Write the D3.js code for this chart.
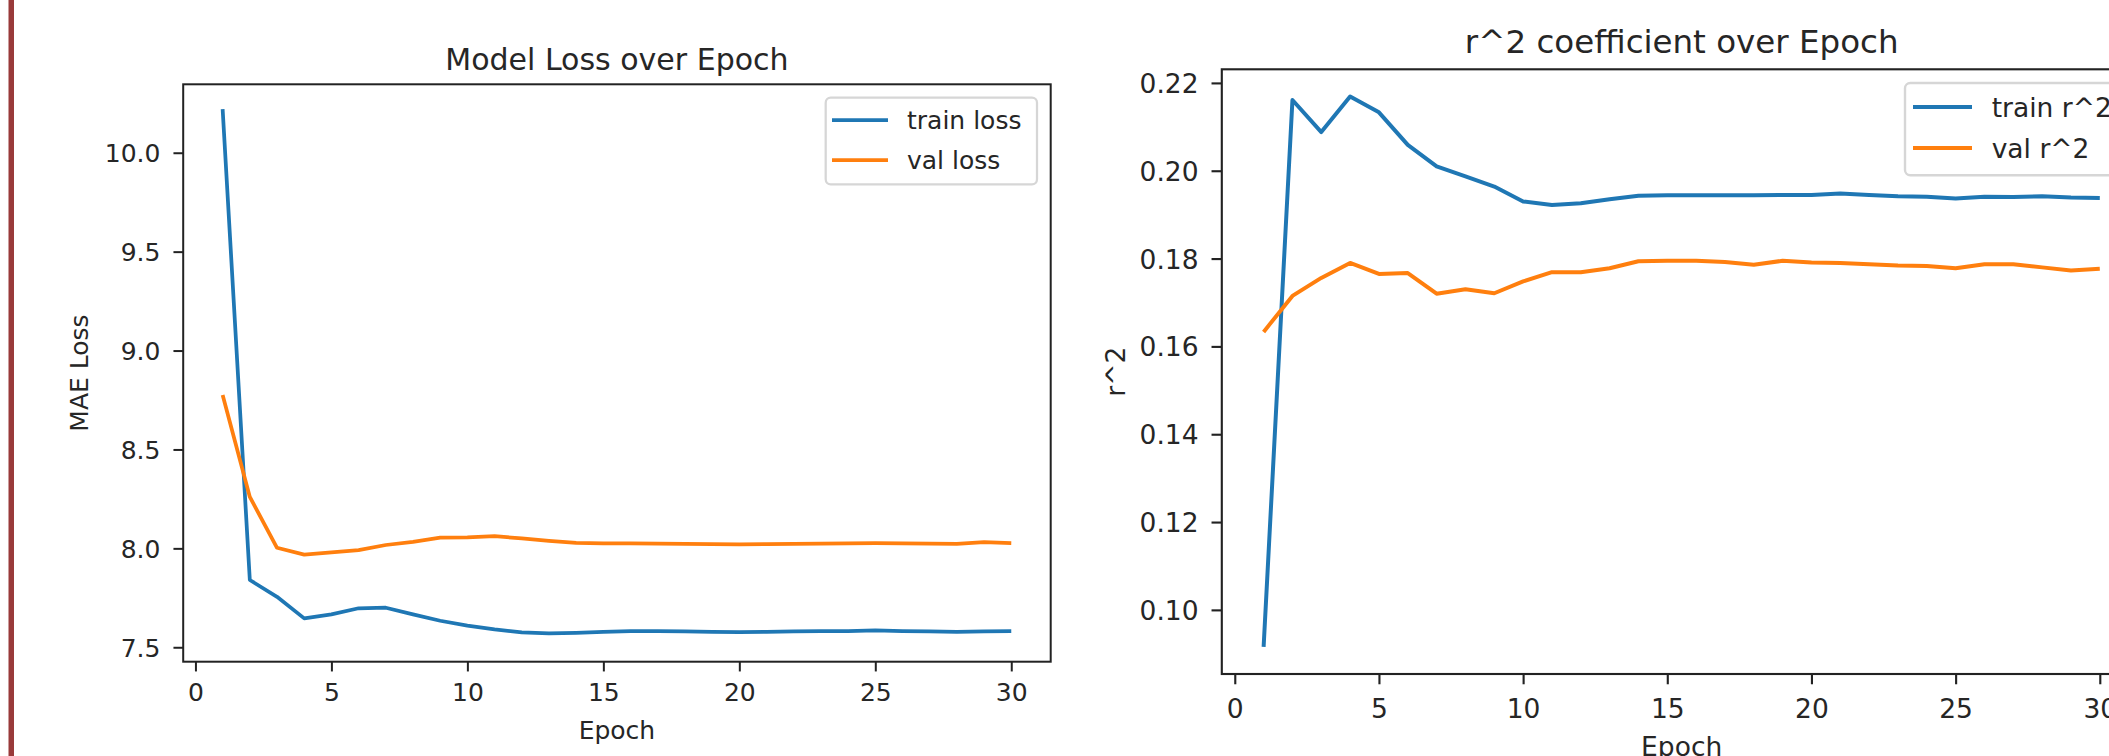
<!DOCTYPE html>
<html>
<head>
<meta charset="utf-8">
<script src="https://cdn.jsdelivr.net/npm/d3@7"></script>
<style>
  html, body { margin: 0; padding: 0; background: #ffffff; }
  svg { display: block; }
  text { font-family: "DejaVu Sans", sans-serif; fill: #262626; }
</style>
</head>
<body>
<svg id="chart" width="2109" height="756"></svg>
<script>
// ---------------- DATA ----------------
const epochs = [1,2,3,4,5,6,7,8,9,10,11,12,13,14,15,16,17,18,19,20,21,22,23,24,25,26,27,28,29,30];

const trainLoss = [10.22, 7.84, 7.755, 7.646, 7.666, 7.697, 7.700, 7.666, 7.634, 7.609,
                   7.590, 7.575, 7.570, 7.573, 7.578, 7.582, 7.582, 7.580, 7.578, 7.577,
                   7.578, 7.580, 7.581, 7.582, 7.585, 7.582, 7.580, 7.578, 7.580, 7.581];
const valLoss   = [8.775, 8.26, 8.003, 7.968, 7.980, 7.991, 8.017, 8.033, 8.054, 8.056,
                   8.062, 8.050, 8.038, 8.028, 8.025, 8.025, 8.024, 8.023, 8.021, 8.020,
                   8.022, 8.023, 8.024, 8.025, 8.026, 8.025, 8.024, 8.023, 8.031, 8.027];

const trainR2 = [0.0916, 0.2161, 0.2088, 0.2169, 0.2133, 0.2059, 0.2010, 0.1987, 0.1964, 0.1930,
                 0.1922, 0.1926, 0.1935, 0.1943, 0.1944, 0.1944, 0.1944, 0.1944, 0.1945, 0.1945,
                 0.1948, 0.1945, 0.1942, 0.1941, 0.1937, 0.1941, 0.1940, 0.1942, 0.1939, 0.1938];
const valR2   = [0.1633, 0.1715, 0.1756, 0.1790, 0.1765, 0.1767, 0.1720, 0.1730, 0.1721, 0.1748,
                 0.1769, 0.1769, 0.1778, 0.1794, 0.1795, 0.1795, 0.1792, 0.1786, 0.1795, 0.1791,
                 0.1790, 0.1787, 0.1784, 0.1783, 0.1778, 0.1787, 0.1787, 0.1780, 0.1773, 0.1777];

const epochTicks = [0, 5, 10, 15, 20, 25, 30];
const lossTicks  = [7.5, 8.0, 8.5, 9.0, 9.5, 10.0];
const r2Ticks    = [0.10, 0.12, 0.14, 0.16, 0.18, 0.20, 0.22];

const epochDomain = [-0.45, 31.45];
const lossDomain  = [7.427, 10.346];
const r2Domain    = [0.0854, 0.2231];

const lossSeries  = ["train loss", "val loss"];
const r2Series    = ["train r^2", "val r^2"];
const seriesColors = ["#1f77b4", "#ff7f0e"];

// ---------------- LAYOUT ----------------
const svg = d3.select("#chart");

// dark red stripe on the left edge
svg.append("rect").attr("x", 8.5).attr("y", 0).attr("width", 5.5).attr("height", 756)
  .attr("fill", "#993a3a");

const panels = [
  {
    box: {x0: 183.2, x1: 1050.7, y0: 84.3, y1: 661.7},
    s: 1.0, fs: 25, tfs: 30,
    title: "Model Loss over Epoch", titleY: 70,
    xlabel: "Epoch", xlabelY: 739.3,
    ylabel: "MAE Loss", ylabelX: 88,
    yDomain: lossDomain, yTicks: lossTicks, yFmt: d3.format(".1f"),
    series: [trainLoss, valLoss], names: lossSeries,
    legend: {x0: 825.7, x1: 1037, y0: 97.7, y1: 184.3, lx0: 832, lx1: 888, tx: 907, ly: [120, 160]},
    xTickPad: 12, yTickPad: 13
  },
  {
    box: {x0: 1221.8, x1: 2141.6, y0: 69.3, y1: 674},
    s: 1.06, fs: 26.5, tfs: 32.5,
    title: "r^2 coefficient over Epoch", titleY: 53.3,
    xlabel: "Epoch", xlabelY: 755.5,
    ylabel: "r^2", ylabelX: 1124.6,
    yDomain: r2Domain, yTicks: r2Ticks, yFmt: d3.format(".2f"),
    series: [trainR2, valR2], names: r2Series,
    legend: {x0: 1905, x1: 2128, y0: 83, y1: 175.3, lx0: 1913, lx1: 1972, tx: 1991.7, ly: [107, 148]},
    xTickPad: 14.5, yTickPad: 13
  }
];

panels.forEach(p => {
  const b = p.box;
  const pt = 2.5 * p.s; // one "point" in pixels
  const g = svg.append("g");

  const x = d3.scaleLinear().domain(epochDomain).range([b.x0, b.x1]);
  const y = d3.scaleLinear().domain(p.yDomain).range([b.y1, b.y0]);

  // lines
  p.series.forEach((vals, i) => {
    const line = d3.line().x((d, k) => x(epochs[k])).y(d => y(d));
    g.append("path").datum(vals)
      .attr("d", line)
      .attr("fill", "none")
      .attr("stroke", seriesColors[i])
      .attr("stroke-width", 1.5 * pt)
      .attr("stroke-linejoin", "round")
      .attr("stroke-linecap", "butt");
  });

  // axes
  const xAxis = d3.axisBottom(x).tickValues(epochTicks).tickFormat(d3.format("d"))
    .tickSize(3.5 * pt + 1).tickPadding(p.xTickPad);
  const gx = g.append("g").attr("transform", `translate(0,${b.y1})`).call(xAxis);
  const yAxis = d3.axisLeft(y).tickValues(p.yTicks).tickFormat(p.yFmt)
    .tickSize(3.5 * pt + 1).tickPadding(p.yTickPad);
  const gy = g.append("g").attr("transform", `translate(${b.x0},0)`).call(yAxis);

  [gx, gy].forEach(ax => {
    ax.select(".domain").remove();
    ax.selectAll(".tick line").attr("stroke", "#222").attr("stroke-width", 0.8 * pt);
    ax.selectAll(".tick text")
      .style("font-family", "'DejaVu Sans', sans-serif")
      .style("font-size", p.fs + "px")
      .attr("fill", "#262626");
  });
  gy.selectAll(".tick text").attr("dy", "0.36em");

  // spines
  g.append("rect")
    .attr("x", b.x0).attr("y", b.y0)
    .attr("width", b.x1 - b.x0).attr("height", b.y1 - b.y0)
    .attr("fill", "none").attr("stroke", "#222").attr("stroke-width", 0.8 * pt);

  const cx = (b.x0 + b.x1) / 2;
  const cy = (b.y0 + b.y1) / 2;

  // title
  g.append("text").attr("x", cx).attr("y", p.titleY)
    .attr("text-anchor", "middle")
    .style("font-size", p.tfs + "px")
    .text(p.title);

  // x label
  g.append("text").attr("x", cx).attr("y", p.xlabelY)
    .attr("text-anchor", "middle")
    .style("font-size", p.fs + "px")
    .text(p.xlabel);

  // y label
  g.append("text")
    .attr("transform", `translate(${p.ylabelX},${cy}) rotate(-90)`)
    .attr("text-anchor", "middle")
    .style("font-size", p.fs + "px")
    .text(p.ylabel);

  // legend
  const L = p.legend;
  g.append("rect")
    .attr("x", L.x0).attr("y", L.y0)
    .attr("width", L.x1 - L.x0).attr("height", L.y1 - L.y0)
    .attr("rx", 0.2 * p.fs).attr("ry", 0.2 * p.fs)
    .attr("fill", "#ffffff").attr("fill-opacity", 0.8)
    .attr("stroke", "#d6d6d6").attr("stroke-width", pt * 0.9);
  p.names.forEach((name, i) => {
    g.append("line")
      .attr("x1", L.lx0).attr("x2", L.lx1)
      .attr("y1", L.ly[i]).attr("y2", L.ly[i])
      .attr("stroke", seriesColors[i]).attr("stroke-width", 1.5 * pt);
    g.append("text")
      .attr("x", L.tx).attr("y", L.ly[i])
      .attr("dy", "0.36em")
      .style("font-size", p.fs + "px")
      .text(name);
  });
});
</script>
</body>
</html>
